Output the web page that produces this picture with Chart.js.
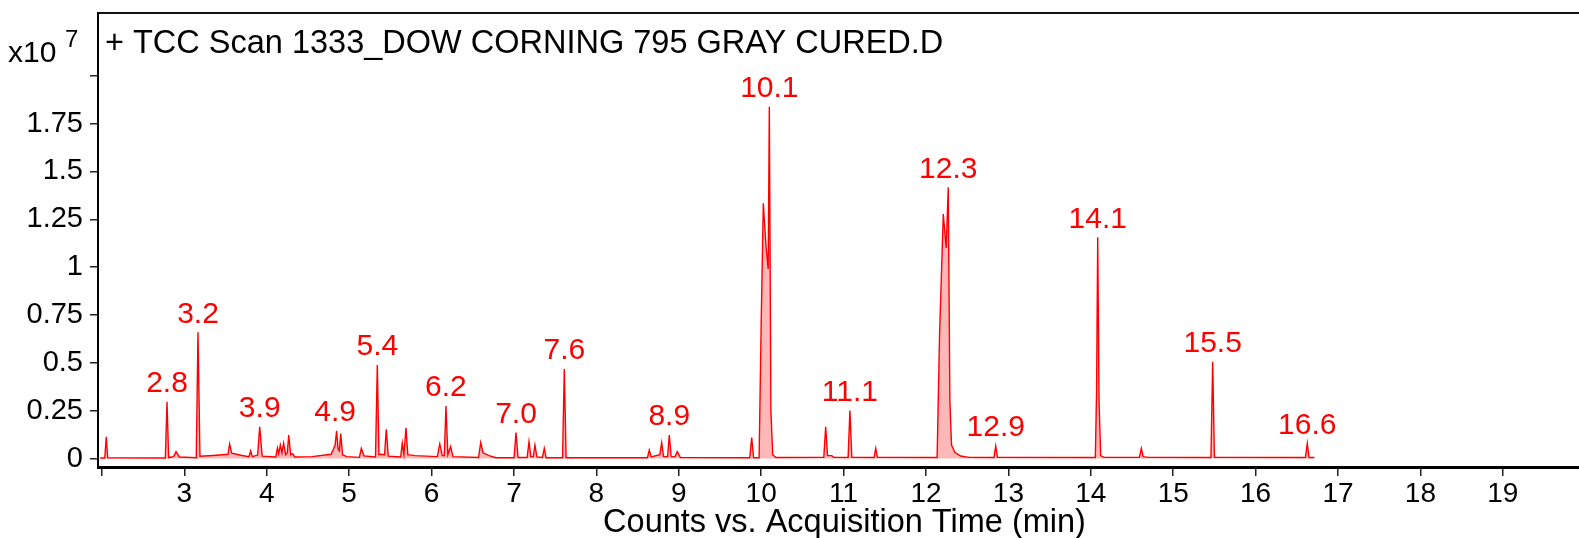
<!DOCTYPE html>
<html><head><meta charset="utf-8">
<script src="https://cdn.jsdelivr.net/npm/chart.js@4.4.1/dist/chart.umd.min.js"></script>
<style>html,body{margin:0;padding:0;overflow:hidden;background:#fff}canvas{display:block}</style>
</head><body>
<canvas id="c" width="1591" height="538"></canvas>
<script>
// Retention time (min)
const times = [
  1.98, 2.035, 2.053, 2.07, 2.77, 2.79, 2.81, 2.87, 2.90, 2.94,
  3.145, 3.166, 3.19, 3.35, 3.53, 3.55, 3.575, 3.70, 3.785, 3.805,
  3.825, 3.89, 3.915, 3.945, 4.11, 4.13, 4.145, 4.165, 4.185, 4.205,
  4.23, 4.25, 4.267, 4.29, 4.315, 4.34, 4.55, 4.78, 4.81, 4.83,
  4.848, 4.866, 4.882, 4.898, 4.92, 4.97, 5.125, 5.148, 5.18, 5.32,
  5.342, 5.362, 5.38, 5.43, 5.451, 5.475, 5.625, 5.645, 5.665, 5.69,
  5.712, 5.80, 6.07, 6.10, 6.13, 6.155, 6.175, 6.198, 6.232, 6.26,
  6.57, 6.597, 6.625, 6.70, 6.78, 7.002, 7.025, 7.05, 7.16, 7.183,
  7.205, 7.235, 7.255, 7.278, 7.345, 7.368, 7.39, 7.59, 7.611, 7.633,
  8.62, 8.642, 8.665, 8.77, 8.793, 8.815, 8.865, 8.885, 8.908, 8.955,
  8.982, 9.02, 9.862, 9.885, 9.908, 9.975, 10.0, 10.026, 10.06, 10.085,
  10.099, 10.118, 10.14, 10.18, 10.76, 10.783, 10.805, 10.856, 10.88, 11.055,
  11.077, 11.1, 11.37, 11.39, 11.41, 12.135, 12.165, 12.21, 12.245, 12.27,
  12.29, 12.31, 12.35, 12.42, 12.52, 12.825, 12.846, 12.868, 14.055, 14.07,
  14.084, 14.1, 14.12, 14.16, 14.59, 14.613, 14.635, 14.7, 15.458, 15.479,
  15.5, 16.605, 16.627, 16.648, 16.714
];
// Counts (x10^7)
const counts = [
  0.003, 0.003, 0.114, 0.004, 0.003, 0.297, 0.005, 0.010, 0.036, 0.008,
  0.004, 0.659, 0.012, 0.016, 0.022, 0.076, 0.028, 0.016, 0.010, 0.040,
  0.010, 0.018, 0.166, 0.012, 0.008, 0.055, 0.025, 0.070, 0.030, 0.080,
  0.020, 0.030, 0.123, 0.020, 0.025, 0.008, 0.010, 0.022, 0.050, 0.070,
  0.145, 0.050, 0.040, 0.130, 0.020, 0.010, 0.006, 0.053, 0.014, 0.008,
  0.489, 0.020, 0.022, 0.020, 0.153, 0.012, 0.008, 0.080, 0.020, 0.161,
  0.020, 0.015, 0.010, 0.076, 0.015, 0.015, 0.274, 0.020, 0.062, 0.010,
  0.005, 0.083, 0.030, 0.015, 0.004, 0.004, 0.135, 0.005, 0.005, 0.088,
  0.010, 0.010, 0.070, 0.008, 0.005, 0.053, 0.004, 0.004, 0.468, 0.004,
  0.004, 0.044, 0.008, 0.020, 0.083, 0.010, 0.010, 0.123, 0.010, 0.010,
  0.036, 0.005, 0.004, 0.110, 0.004, 0.004, 0.700, 1.333, 1.100, 0.990,
  1.838, 0.250, 0.020, 0.005, 0.006, 0.166, 0.015, 0.015, 0.006, 0.005,
  0.250, 0.006, 0.005, 0.053, 0.006, 0.005, 0.650, 1.277, 1.100, 1.417,
  0.300, 0.070, 0.032, 0.013, 0.006, 0.005, 0.065, 0.006, 0.005, 0.350,
  1.156, 0.300, 0.015, 0.006, 0.006, 0.053, 0.010, 0.006, 0.005, 0.506,
  0.006, 0.005, 0.079, 0.005, 0.005
];
// Annotated peaks
const peakLabels  = ['2.8','3.2','3.9','4.9','5.4','6.2','7.0','7.6','8.9','10.1','11.1','12.3','12.9','14.1','15.5','16.6'];
const peakTimes   = [2.79, 3.166, 3.915, 4.83, 5.342, 6.175, 7.025, 7.611, 8.885, 10.099, 11.077, 12.27, 12.846, 14.084, 15.479, 16.627];
const peakHeights = [0.297, 0.659, 0.166, 0.145, 0.489, 0.274, 0.135, 0.468, 0.123, 1.838, 0.25, 1.417, 0.065, 1.156, 0.506, 0.079];
// Axis ticks
const xTicks = [2,3,4,5,6,7,8,9,10,11,12,13,14,15,16,17,18,19];
const yTicks = [0,0.25,0.5,0.75,1,1.25,1.5,1.75,2];
const chartTitle = '+ TCC Scan 1333_DOW CORNING 795 GRAY CURED.D';
const xTitle = 'Counts vs. Acquisition Time (min)';

const FONT = '"Liberation Sans", Arial, Helvetica, sans-serif';
Chart.defaults.font.family = FONT;
Chart.defaults.color = '#000';

const textPlugin = {
  id: 'texts',
  afterDatasetsDraw(chart) {
    const ctx = chart.ctx, xs = chart.scales.x, ys = chart.scales.y, ca = chart.chartArea;
    ctx.save();
    ctx.fillStyle = '#000';
    ctx.font = '32.5px ' + FONT;
    ctx.textAlign = 'left';
    ctx.textBaseline = 'alphabetic';
    ctx.fillText(chartTitle, ca.left + 7, 53);
    ctx.font = '30px ' + FONT;
    ctx.fillText('x10', 8, 62);
    ctx.font = '24px ' + FONT;
    ctx.fillText('7', 65, 47);
    ctx.fillStyle = '#ff0000';
    ctx.font = '30px ' + FONT;
    ctx.textAlign = 'center';
    ctx.textBaseline = 'middle';
    peakLabels.forEach((t, i) => {
      const px = xs.getPixelForValue(peakTimes[i]);
      const py = ys.getPixelForValue(peakHeights[i]);
      ctx.fillText(t, px, py - 18);
    });
    ctx.restore();
  }
};

new Chart(document.getElementById('c'), {
  type: 'line',
  data: {
    datasets: [{
      data: times.map((t, i) => ({x: t, y: counts[i]})),
      borderColor: '#ff0000',
      backgroundColor: 'rgba(255,0,0,0.28)',
      borderWidth: 1.4,
      pointRadius: 0,
      tension: 0,
      fill: 'origin'
    }]
  },
  options: {
    responsive: false,
    animation: false,
    layout: {padding: {top: 13, left: 0, right: 0, bottom: 0}},
    plugins: {legend: {display: false}, tooltip: {enabled: false}},
    scales: {
      x: {
        type: 'linear', position: 'bottom',
        min: 1.9527, max: 20.0697,
        afterBuildTicks: s => { s.ticks = xTicks.map(v => ({value: v})); },
        afterFit: s => { s.height = 71; s.paddingLeft = 0; s.paddingRight = 0; },
        ticks: {
          autoSkip: false, maxRotation: 0, padding: 1,
          font: {size: 28},
          callback: v => (v === 2 ? '' : String(v))
        },
        grid: {drawOnChartArea: false, drawTicks: true, tickLength: 9, color: '#222', lineWidth: 1.5},
        border: {display: true, color: '#000', width: 3},
        title: {display: true, text: xTitle, font: {size: 32.5, lineHeight: 0.9}, padding: 0, color: '#000'}
      },
      x2: {
        type: 'linear', position: 'top', display: true,
        min: 1.9527, max: 20.0697,
        afterFit: s => { s.height = 0; s.paddingLeft = 0; s.paddingRight = 0; },
        ticks: {display: false},
        grid: {display: false, drawTicks: false},
        border: {display: true, color: '#111', width: 2}
      },
      y: {
        type: 'linear', position: 'left',
        min: -0.0444, max: 2.3276,
        afterBuildTicks: s => { s.ticks = yTicks.map(v => ({value: v})); },
        afterFit: s => { s.width = 98; s.paddingTop = 0; s.paddingBottom = 0; },
        ticks: {
          autoSkip: false, padding: 7,
          font: {size: 29},
          callback: v => (v === 2 ? '' : String(v))
        },
        grid: {drawOnChartArea: false, drawTicks: true, tickLength: 8, color: '#222', lineWidth: 1.5},
        border: {display: true, color: '#000', width: 2}
      }
    }
  },
  plugins: [textPlugin]
});
</script>
</body></html>
